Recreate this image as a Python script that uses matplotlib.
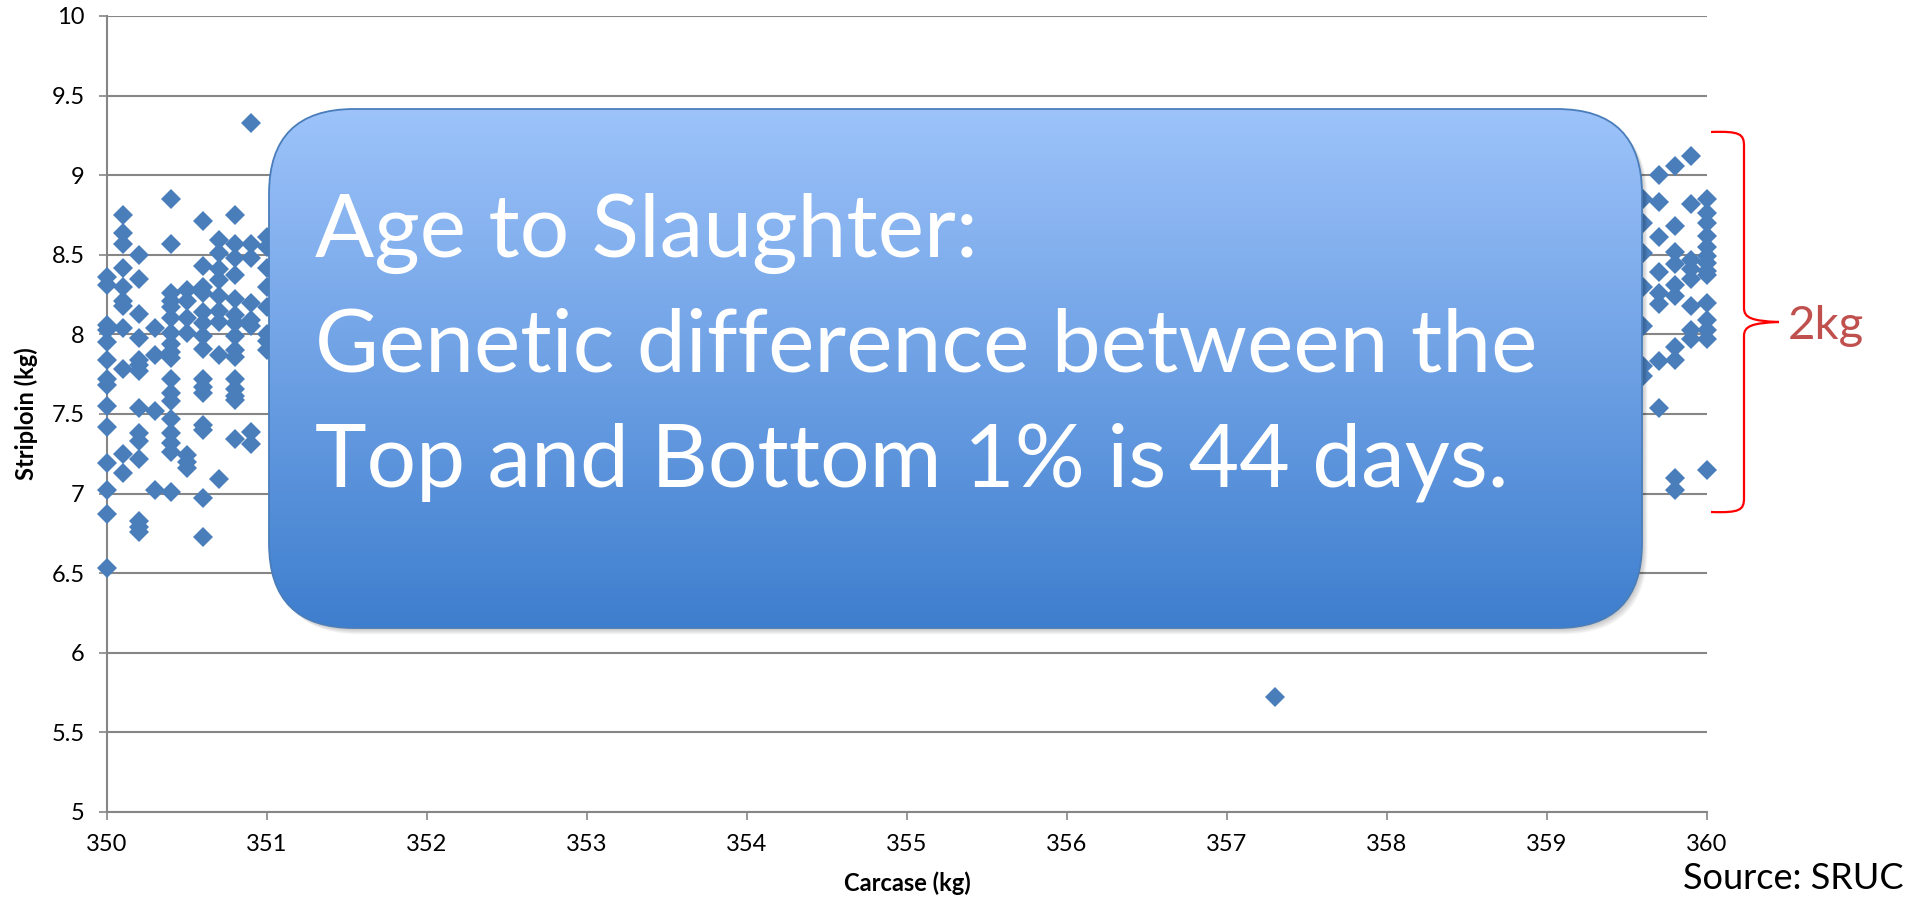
import numpy as np
import matplotlib
matplotlib.use('Agg')
import matplotlib.pyplot as plt
from matplotlib.patches import FancyBboxPatch, PathPatch
from matplotlib.path import Path

plt.rcParams['font.family'] = ['Lato', 'DejaVu Sans']

# carcase columns (kg) and the striploin weights (kg) visible in each
left_cols = [350.0, 350.1, 350.2, 350.3, 350.4, 350.5, 350.6, 350.7, 350.8, 350.9, 351.0]
left_vals = [
    [8.36, 8.31, 8.06, 8.03, 7.95, 7.84, 7.72, 7.68, 7.55, 7.42, 7.19, 7.02, 6.87, 6.53],
    [8.75, 8.64, 8.57, 8.42, 8.30, 8.21, 8.18, 8.04, 7.78, 7.25, 7.13],
    [8.50, 8.35, 8.13, 7.98, 7.84, 7.81, 7.77, 7.54, 7.38, 7.33, 7.22, 6.83, 6.79, 6.76],
    [8.04, 7.87, 7.52, 7.02],
    [8.85, 8.57, 8.26, 8.21, 8.17, 8.10, 8.01, 7.94, 7.89, 7.85, 7.72, 7.63, 7.58,
     7.47, 7.38, 7.32, 7.26, 7.01],
    [8.28, 8.21, 8.10, 8.01, 7.24, 7.20, 7.16],
    [8.71, 8.43, 8.30, 8.26, 8.14, 8.07, 7.99, 7.91, 7.72, 7.67, 7.63, 7.43, 7.40, 6.97, 6.73],
    [8.59, 8.51, 8.41, 8.34, 8.24, 8.15, 8.08, 7.87, 7.09],
    [8.75, 8.57, 8.48, 8.37, 8.22, 8.12, 8.07, 7.99, 7.90, 7.86, 7.72, 7.66, 7.61, 7.59, 7.34],
    [9.33, 8.57, 8.48, 8.20, 8.09, 8.05, 7.39, 7.31],
    [8.61, 8.55, 8.42, 8.30, 8.17, 8.00, 7.96, 7.90],
]
right_cols = [359.6, 359.7, 359.8, 359.9, 360.0]
right_vals = [
    [8.85, 8.70, 8.51, 8.30, 8.05, 7.80, 7.74],
    [9.00, 8.83, 8.61, 8.39, 8.26, 8.19, 7.83, 7.54],
    [9.06, 8.68, 8.52, 8.44, 8.31, 8.24, 7.92, 7.84, 7.10, 7.02],
    [9.12, 8.82, 8.47, 8.41, 8.35, 8.18, 8.03, 7.97],
    [8.85, 8.76, 8.70, 8.62, 8.55, 8.49, 8.45, 8.40, 8.37, 8.20, 8.09, 8.03, 7.97, 7.15],
]
outlier_x = [357.3]
outlier_y = [5.72]

x_ticks = [350, 351, 352, 353, 354, 355, 356, 357, 358, 359, 360]
y_ticks = [5, 5.5, 6, 6.5, 7, 7.5, 8, 8.5, 9, 9.5, 10]
y_tick_labels = ['5', '5.5', '6', '6.5', '7', '7.5', '8', '8.5', '9', '9.5', '10']

box_lines = ['Age to Slaughter:',
             'Genetic difference between the',
             'Top and Bottom 1% is 44 days.']

xs, ys = [], []
for cols, vals in [(left_cols, left_vals), (right_cols, right_vals)]:
    for c, v in zip(cols, vals):
        xs += [c] * len(v)
        ys += v
xs += outlier_x
ys += outlier_y

W, H = 1907, 900
fig = plt.figure(figsize=(W / 100, H / 100), dpi=100)
ax = fig.add_axes([107 / W, 1 - 812 / H, 1600 / W, 796 / H])

grey = '#868686'
ax.plot(xs, ys, 'D', ms=10, color='#4A7EBB', mew=0, zorder=3, clip_on=False)
ax.set_xlim(350, 360)
ax.set_ylim(5, 10)
ax.set_xticks(x_ticks)
ax.set_xticklabels([str(t) for t in x_ticks])
ax.set_yticks(y_ticks)
ax.set_yticklabels(y_tick_labels)
ax.grid(axis='y', color=grey, lw=1.5)
ax.set_axisbelow(True)
for s in ['top', 'right']:
    ax.spines[s].set_visible(False)
for s in ['left', 'bottom']:
    ax.spines[s].set_color(grey)
    ax.spines[s].set_linewidth(1.5)
ax.tick_params(axis='both', direction='out', length=6, width=1.2, color=grey,
               labelsize=17, pad=10)
ax.set_xlabel('Carcase (kg)', fontsize=17, fontweight='bold', labelpad=12)
ax.set_ylabel('Striploin (kg)', fontsize=17, fontweight='bold', labelpad=10)

# overlay in pixel coordinates
ov = fig.add_axes([0, 0, 1, 1], zorder=10)
ov.axis('off')
ov.patch.set_alpha(0)

bx, by, bw, bh, rad = 269, 109, 1373, 519, 85
for i in range(1, 8):
    sh = FancyBboxPatch((bx + i * 0.8, by + i * 0.9), bw, bh,
                        boxstyle=f'round,pad=0,rounding_size={rad}',
                        fc='black', ec='none', alpha=0.035)
    ov.add_patch(sh)
box = FancyBboxPatch((bx, by), bw, bh, boxstyle=f'round,pad=0,rounding_size={rad}',
                     fc='none', ec='#4A7EBB', lw=1.3, zorder=3)
ov.add_patch(box)
top_c = np.array([157, 195, 250]) / 255
bot_c = np.array([62, 126, 206]) / 255
t = np.linspace(0, 1, 256)[:, None, None]
grad = top_c * (1 - t) + bot_c * t
im = ov.imshow(grad, extent=[bx, bx + bw, by + bh, by], aspect='auto', zorder=2)
im.set_clip_path(box)
ov.set_xlim(0, W)
ov.set_ylim(H, 0)

for line, yb in zip(box_lines, [257, 372, 487]):
    ov.text(315, yb, line, color='white', fontsize=63, va='baseline', ha='left', zorder=4)

# red brace
verts = [(1711, 132), (1740, 131), (1744, 134), (1744, 146),
         (1744, 308),
         (1744, 318), (1752, 321), (1779, 322),
         (1752, 323), (1744, 326), (1744, 336),
         (1744, 498),
         (1744, 510), (1740, 513), (1711, 512)]
codes = [Path.MOVETO, Path.CURVE4, Path.CURVE4, Path.CURVE4,
         Path.LINETO,
         Path.CURVE4, Path.CURVE4, Path.CURVE4,
         Path.CURVE4, Path.CURVE4, Path.CURVE4,
         Path.LINETO,
         Path.CURVE4, Path.CURVE4, Path.CURVE4]
ov.add_patch(PathPatch(Path(verts, codes), fc='none', ec='#FF0000', lw=1.6))
ov.text(1788, 339, '2kg', color='#C0504D', fontsize=34, va='baseline', ha='left')
ov.text(1904, 889, 'Source: SRUC', color='black', fontsize=26, va='baseline', ha='right')

fig.savefig('out.png', dpi=100)
